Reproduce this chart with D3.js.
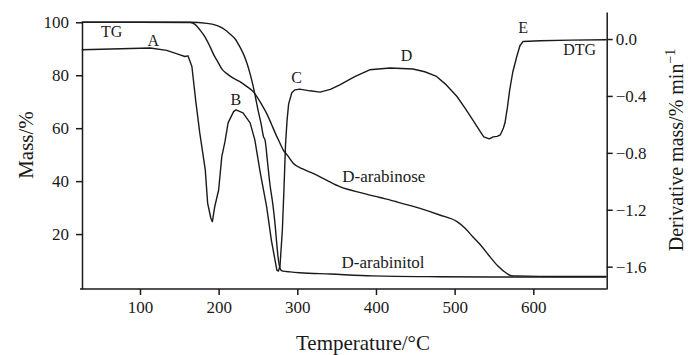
<!DOCTYPE html>
<html>
<head>
<meta charset="utf-8">
<script src="https://cdn.jsdelivr.net/npm/d3@7"></script>
<style>
  body { margin: 0; background: #fff; }
  svg { display: block; font-family: "Liberation Serif", "Times New Roman", serif; }
  .axis path, .axis line { stroke: #1a1a1a; stroke-width: 1.5; }
  .axis text { font-size: 17px; fill: #1a1a1a; font-family: "Liberation Serif", serif; }
  .curve { fill: none; stroke: #1a1a1a; stroke-width: 1.4; stroke-linejoin: round; }
  .lbl { font-size: 16px; fill: #1a1a1a; }
</style>
</head>
<body>
<div id="chart"></div>
<script>
// temperature (°C) / value pairs
const arabinitolTemp = [26, 164, 185, 193, 202, 208, 214, 221, 227, 232, 236, 240, 244, 247, 250, 254, 257, 259, 262, 265, 269, 272, 274, 276, 278, 280, 282, 291, 303, 342, 396, 481, 545, 693];
const arabinitolMass = [100, 100, 99.6, 99.2, 98.3, 97.2, 95.7, 93.7, 90.7, 87.7, 84.5, 80.5, 75.7, 71.4, 66.9, 61.6, 56.8, 55.5, 47.6, 39.3, 31.0, 22.8, 15.9, 10.2, 7.1, 6.2, 6.0, 5.7, 5.4, 4.9, 4.2, 3.9, 3.8, 3.8];

const arabinoseTemp = [26, 100, 164, 170, 176, 183, 189, 194, 200, 204, 210, 218, 227, 236, 244, 250, 255, 261, 267, 274, 278, 282, 287, 295, 307, 320, 337, 354, 384, 405, 426, 456, 481, 503, 513, 523, 534, 545, 555, 566, 572, 579, 634, 693];
const arabinoseMass = [100, 100, 99.9, 99.2, 97.2, 94.3, 90.8, 87.6, 84.5, 82.4, 80.7, 79.0, 77.6, 75.7, 73.8, 71.3, 68.8, 65.6, 61.6, 56.8, 54.3, 51.8, 49.9, 46.7, 44.6, 42.9, 40.4, 37.9, 35.4, 33.8, 32.2, 29.7, 27.2, 24.7, 22.3, 19.0, 15.5, 11.4, 7.9, 5.2, 4.3, 4.2, 4.0, 4.0];

const dtgTemp = [26, 113, 134, 151, 157, 161, 166, 171, 176, 183, 186, 190, 192, 195, 200, 204, 208, 212, 219, 222, 231, 240, 246, 253, 261, 267, 274, 276, 278, 281, 283, 285, 287, 289, 293, 297, 303, 316, 329, 342, 354, 373, 392, 418, 447, 462, 477, 488, 503, 513, 523, 532, 537, 544, 549, 554, 558, 562, 564, 567, 570, 574, 579, 583, 587, 609, 647, 693];
const dtgValue = [-0.075, -0.063, -0.080, -0.111, -0.123, -0.118, -0.193, -0.44, -0.660, -0.920, -1.153, -1.258, -1.284, -1.179, -1.061, -0.827, -0.723, -0.589, -0.510, -0.498, -0.519, -0.589, -0.709, -0.942, -1.178, -1.413, -1.624, -1.631, -1.595, -1.342, -1.061, -0.744, -0.568, -0.456, -0.378, -0.357, -0.352, -0.364, -0.373, -0.354, -0.322, -0.265, -0.216, -0.204, -0.211, -0.230, -0.263, -0.315, -0.404, -0.484, -0.568, -0.646, -0.688, -0.702, -0.688, -0.684, -0.674, -0.625, -0.589, -0.484, -0.357, -0.230, -0.123, -0.047, -0.017, -0.012, -0.008, -0.005];

const xTicks = [100, 200, 300, 400, 500, 600];
const massTicks = [20, 40, 60, 80, 100];
const dtgTicks = [0, -0.4, -0.8, -1.2, -1.6];

// labels: [text, temperature, value on mass axis]
const peakLabels = [["TG", 64, 94.3], ["A", 117, 91.2], ["B", 221.7, 68.8], ["C", 299, 77.2], ["D", 439, 85.4], ["E", 587, 95.8], ["DTG", 659, 87.6]];
const curveLabels = [["D-arabinose", 410, 39.7], ["D-arabinitol", 409, 7.2]];

const width = 688, height = 355;

const svg = d3.select('#chart')
  .append('svg')
  .attr('width', width)
  .attr('height', height);

const x = d3.scaleLinear().domain([26.3, 693.3]).range([82, 606.7]);
const yMass = d3.scaleLinear().domain([-0.75, 100]).range([289, 22.3]);
const yDtg = d3.scaleLinear().domain([-1.757, 0.19]).range([289, 12]);

const fmtDtg = d => d === 0 ? '0.0' : '\u2212' + Math.abs(d).toFixed(1);

svg.append('g')
  .attr('class', 'axis')
  .attr('transform', 'translate(0,289)')
  .call(d3.axisBottom(x).tickValues(xTicks).tickSize(6).tickSizeOuter(0).tickPadding(6))
  .call(g => g.select('.domain').attr('d', 'M80,0H606.7'));

svg.append('g')
  .attr('class', 'axis')
  .attr('transform', 'translate(82,0)')
  .call(d3.axisLeft(yMass).tickValues(massTicks).tickSize(6).tickSizeOuter(0).tickPadding(7));

svg.append('g')
  .attr('class', 'axis')
  .attr('transform', 'translate(606.7,0)')
  .call(d3.axisRight(yDtg).tickValues(dtgTicks).tickFormat(fmtDtg).tickSize(6).tickSizeOuter(0).tickPadding(3));

const massLine = d3.line().x(d => x(d[0])).y(d => yMass(d[1])).curve(d3.curveMonotoneX);
const dtgLine = d3.line().x(d => x(d[0])).y(d => yDtg(d[1])).curve(d3.curveLinear);

svg.append('path').attr('class', 'curve')
  .attr('d', massLine(d3.zip(arabinitolTemp, arabinitolMass)));
svg.append('path').attr('class', 'curve')
  .attr('d', massLine(d3.zip(arabinoseTemp, arabinoseMass)));
svg.append('path').attr('class', 'curve')
  .attr('d', dtgLine(d3.zip(dtgTemp, dtgValue)));

svg.selectAll('.peak')
  .data(peakLabels)
  .enter()
  .append('text')
  .attr('class', 'lbl')
  .attr('x', d => x(d[1]))
  .attr('y', d => yMass(d[2]))
  .attr('text-anchor', 'middle')
  .text(d => d[0]);

svg.selectAll('.name')
  .data(curveLabels)
  .enter()
  .append('text')
  .attr('class', 'lbl')
  .style('font-size', '17px')
  .attr('x', d => x(d[1]))
  .attr('y', d => yMass(d[2]))
  .attr('text-anchor', 'middle')
  .text(d => d[0]);

// axis titles
svg.append('text')
  .attr('x', 363).attr('y', 350)
  .attr('text-anchor', 'middle')
  .style('font-size', '21px').style('fill', '#1a1a1a')
  .text('Temperature/°C');

svg.append('text')
  .attr('transform', 'translate(33,145) rotate(-90)')
  .attr('text-anchor', 'middle')
  .style('font-size', '21px').style('fill', '#1a1a1a')
  .text('Mass/%');

const rt = svg.append('text')
  .attr('transform', 'translate(683,150) rotate(-90)')
  .attr('text-anchor', 'middle')
  .style('font-size', '20px').style('fill', '#1a1a1a');
rt.append('tspan').text('Derivative mass/% min');
rt.append('tspan').attr('dy', -8).style('font-size', '14px').text('\u22121');
</script>
</body>
</html>
